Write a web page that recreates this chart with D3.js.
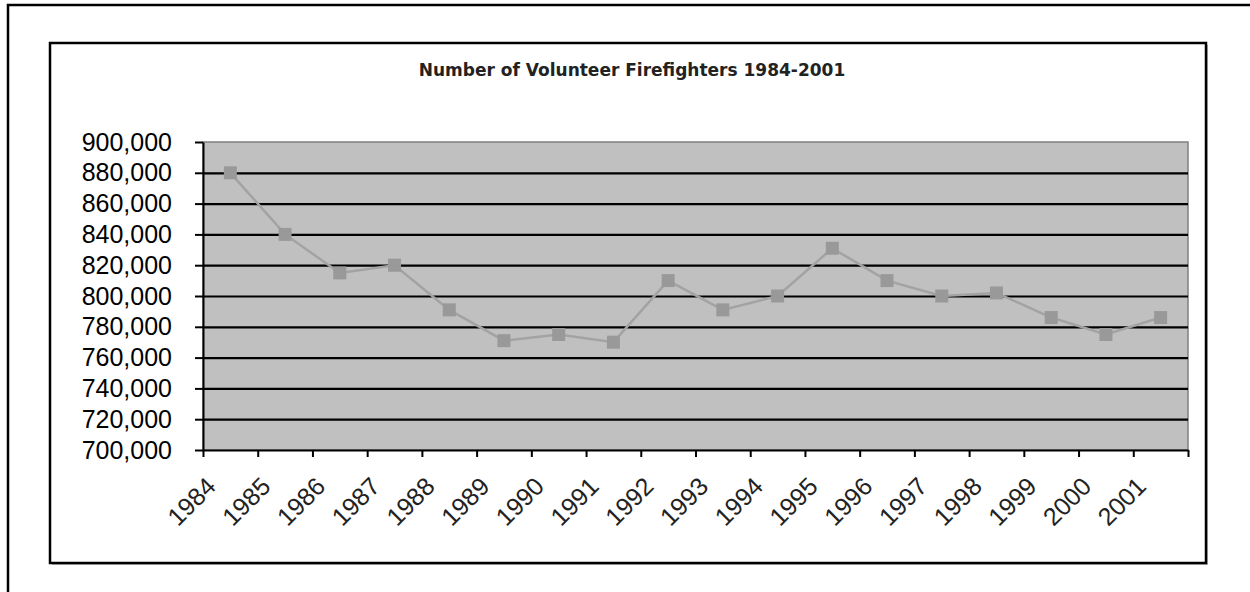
<!DOCTYPE html>
<html>
<head>
<meta charset="utf-8">
<script src="https://cdn.jsdelivr.net/npm/d3@7"></script>
<style>
  html, body { margin: 0; padding: 0; background: #fff; }
  svg { display: block; }
  text { font-family: "Liberation Sans", Arial, sans-serif; fill: #000; }
</style>
</head>
<body>
<script>
// ----- Data -----
const years = ["1984", "1985", "1986", "1987", "1988", "1989", "1990", "1991", "1992",
               "1993", "1994", "1995", "1996", "1997", "1998", "1999", "2000", "2001"];
const volunteers = [880000, 840000, 815000, 820000, 791000, 771000, 775000, 770000, 810000,
                    791000, 800000, 831000, 810000, 800000, 802000, 786000, 775000, 786000];
const yTicks = [700000, 720000, 740000, 760000, 780000, 800000, 820000, 840000, 860000, 880000, 900000];
const chartTitle = "Number of Volunteer Firefighters 1984-2001";

// ----- Layout -----
const W = 1250, H = 592;
const PLOT = { left: 203, right: 1188, top: 142, bottom: 450 };
const LABEL_SIZE = 25;

const svg = d3.select("body").append("svg")
    .attr("width", W)
    .attr("height", H);

// outer frame (only top/left edges are in view)
svg.append("rect")
    .attr("x", 8).attr("y", 5)
    .attr("width", W + 40).attr("height", H + 40)
    .attr("fill", "#fff")
    .attr("stroke", "#000")
    .attr("stroke-width", 2.5);

// chart box
svg.append("rect")
    .attr("x", 52).attr("y", 45)
    .attr("width", 1156).attr("height", 520)
    .attr("fill", "#bbb");
svg.append("rect")
    .attr("x", 50).attr("y", 43)
    .attr("width", 1156).attr("height", 520)
    .attr("fill", "#fff")
    .attr("stroke", "#000")
    .attr("stroke-width", 2.5);

// title
svg.append("text")
    .attr("x", 632).attr("y", 76)
    .attr("text-anchor", "middle")
    .style("font-family", "'DejaVu Sans', Verdana, sans-serif")
    .style("font-size", "17px")
    .style("font-weight", "bold")
    .style("fill", "#222")
    .text(chartTitle);

// ----- Scales -----
const x = d3.scaleBand()
    .domain(years)
    .range([PLOT.left, PLOT.right])
    .padding(0);

const y = d3.scaleLinear()
    .domain([700000, 900000])
    .range([PLOT.bottom, PLOT.top]);

// plot area
svg.append("rect")
    .attr("x", PLOT.left).attr("y", PLOT.top)
    .attr("width", PLOT.right - PLOT.left)
    .attr("height", PLOT.bottom - PLOT.top)
    .attr("fill", "#c0c0c0")
    .attr("stroke", "#808080")
    .attr("stroke-width", 1.5);

// gridlines
const grid = svg.append("g")
    .attr("transform", `translate(${PLOT.left},0)`)
    .call(d3.axisLeft(y)
        .tickValues(yTicks.filter(d => d > 700000 && d < 900000))
        .tickSize(-(PLOT.right - PLOT.left))
        .tickFormat(""));
grid.select(".domain").remove();
grid.selectAll(".tick line")
    .attr("stroke", "#000")
    .attr("stroke-width", 2.2);

// y axis
const yAxis = svg.append("g")
    .attr("transform", `translate(${PLOT.left},0)`)
    .call(d3.axisLeft(y)
        .tickValues(yTicks)
        .tickSize(8)
        .tickSizeOuter(0)
        .tickPadding(23)
        .tickFormat(d3.format(",")));
yAxis.select(".domain").attr("stroke", "#000").attr("stroke-width", 2);
yAxis.selectAll(".tick line").attr("stroke", "#000").attr("stroke-width", 2);
yAxis.selectAll(".tick text")
    .style("font-size", LABEL_SIZE + "px")
    .style("font-family", "'Liberation Sans', Arial, sans-serif")
    .attr("fill", "#222");

// x axis: ticks at category boundaries
const xEdge = d3.scaleLinear()
    .domain([0, years.length])
    .range([PLOT.left, PLOT.right]);
const xAxis = svg.append("g")
    .attr("transform", `translate(0,${PLOT.bottom})`)
    .call(d3.axisBottom(xEdge)
        .tickValues(d3.range(years.length + 1))
        .tickSize(7)
        .tickSizeOuter(0)
        .tickFormat(""));
xAxis.select(".domain").attr("stroke", "#000").attr("stroke-width", 2);
xAxis.selectAll(".tick line").attr("stroke", "#000").attr("stroke-width", 2);

// rotated category labels
svg.append("g").selectAll("text")
    .data(years)
    .enter()
    .append("text")
        .attr("transform", d => `translate(${x(d) + x.bandwidth() / 2 - 13},${PLOT.bottom + 38}) rotate(-45)`)
        .attr("text-anchor", "end")
        .style("font-size", LABEL_SIZE + "px")
        .style("fill", "#222")
        .text(d => d);

// ----- Series -----
const cx = (d, i) => x(years[i]) + x.bandwidth() / 2;

svg.append("path")
    .datum(volunteers)
    .attr("fill", "none")
    .attr("stroke", "#a3a3a3")
    .attr("stroke-width", 2.5)
    .attr("d", d3.line()
        .x(cx)
        .y(d => y(d)));

svg.append("g").selectAll("rect")
    .data(volunteers)
    .enter()
    .append("rect")
        .attr("x", (d, i) => cx(d, i) - 6.5)
        .attr("y", d => y(d) - 6.5)
        .attr("width", 13)
        .attr("height", 13)
        .attr("fill", "#999");
</script>
</body>
</html>
